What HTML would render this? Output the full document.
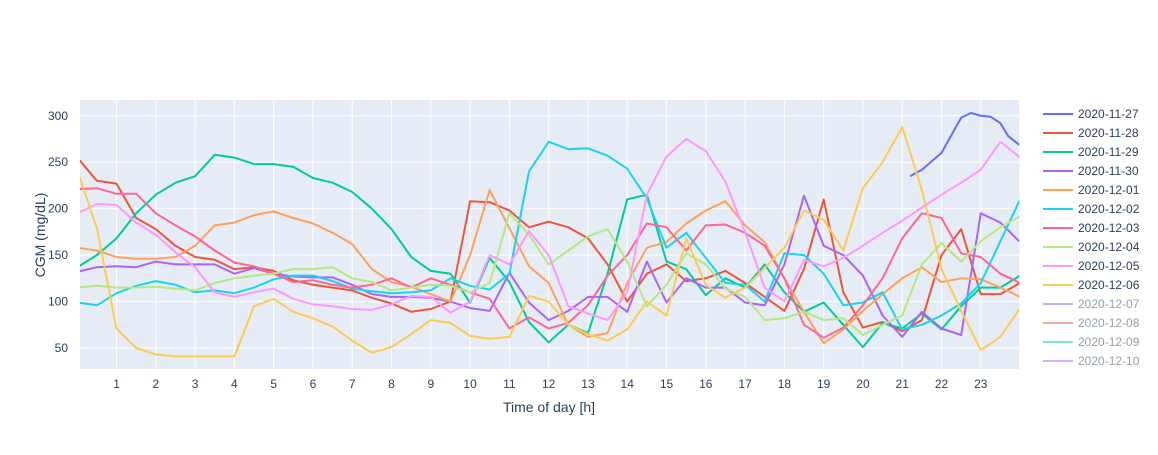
<!DOCTYPE html>
<html><head><meta charset="utf-8"><style>
body{margin:0;background:#fff;font-family:"Liberation Sans",sans-serif}
svg text{font-family:"Liberation Sans",sans-serif;fill:#2a3f5f}
</style></head><body>
<svg id="chart" width="1158" height="450" xmlns="http://www.w3.org/2000/svg">
<rect x="80" y="100" width="939.3" height="269" fill="#e5ecf6"/>
<g id="grid"></g><g id="series"></g><g id="axes"></g><g id="legend"></g>
<text x="549" y="412" font-size="14" text-anchor="middle">Time of day [h]</text>
<text x="0" y="0" font-size="14" text-anchor="middle" transform="translate(45,235) rotate(-90)">CGM (mg/dL)</text>
</svg>
<script>
const hours = [0,0.5,1,1.5,2,2.5,3,3.5,4,4.5,5,5.5,6,6.5,7,7.5,8,8.5,9,9.5,10,10.5,11,11.5,12,12.5,13,13.5,14,14.5,15,15.5,16,16.5,17,17.5,18,18.5,19,19.5,20,20.5,21,21.5,22,22.5,23,23.5,24];
const dates = ["2020-11-27","2020-11-28","2020-11-29","2020-11-30","2020-12-01","2020-12-02","2020-12-03","2020-12-04","2020-12-05","2020-12-06","2020-12-07","2020-12-08","2020-12-09","2020-12-10"];
const colors = ["#636efa","#EF553B","#00cc96","#ab63fa","#FFA15A","#19d3f3","#FF6692","#B6E880","#FF97FF","#FECB52","#636efa","#EF553B","#00cc96","#ab63fa"];
const yTicks = [50,100,150,200,250,300];
const xTicks = [1,2,3,4,5,6,7,8,9,10,11,12,13,14,15,16,17,18,19,20,21,22,23];
const d1127t = [21.2,21.5,22,22.5,22.75,23,23.25,23.5,23.7,24];
const d1127v = [235,242,260,298,303,300,299,292,278,268];
const d1128 = [255,230,227,190,178,160,148,145,135,137,133,123,118,115,112,104,98,89,92,100,208,207,198,180,186,180,168,140,100,130,140,122,125,133,120,105,90,135,210,110,72,78,68,80,150,178,108,108,120];
const d1129 = [137,150,168,195,215,228,235,258,255,248,248,245,233,228,218,200,178,148,133,130,99,147,121,78,56,75,66,130,210,215,143,135,107,125,115,140,110,89,99,75,51,77,71,87,70,95,115,115,128];
const d1130 = [132,137,138,137,143,140,140,140,130,136,130,127,126,126,118,108,105,105,104,100,93,90,131,99,80,90,105,105,89,143,99,125,115,115,99,96,140,214,160,150,128,85,62,89,71,64,195,185,164];
const d1201 = [158,155,148,146,146,148,160,182,185,193,197,190,184,174,162,135,121,116,108,100,150,220,179,138,120,75,62,66,120,158,164,184,198,208,182,164,125,89,55,70,90,108,125,137,121,125,124,115,105];
const d1202 = [99,96,109,117,122,118,110,112,109,115,124,128,128,122,114,111,109,110,112,125,117,113,130,240,272,264,265,257,243,211,158,174,147,120,118,100,152,150,130,96,99,110,70,75,85,98,120,165,210];
const d1203 = [221,222,216,216,195,182,170,155,142,138,130,121,123,118,115,118,125,115,125,118,110,103,71,83,71,77,96,128,150,184,180,155,182,183,174,160,125,75,61,72,96,125,168,195,190,152,148,130,120];
const d1204 = [115,117,115,115,116,114,112,120,125,128,130,135,135,137,125,121,112,115,118,117,110,120,195,172,140,155,170,178,143,95,118,152,140,114,105,80,82,89,80,82,64,75,85,140,163,143,165,180,192];
const d1205 = [195,205,204,185,172,153,137,110,105,110,114,103,97,95,92,91,97,106,105,88,100,150,140,176,150,95,87,80,110,215,256,275,262,229,175,115,100,145,138,147,160,174,187,201,215,228,242,272,255];
const d1206 = [241,179,71,50,43,41,41,41,41,95,103,89,82,73,58,45,51,65,80,77,63,60,62,106,100,75,65,58,70,100,85,168,118,104,115,136,158,198,188,155,222,250,288,220,135,90,48,62,93];
const visibleValues = [null,d1128,d1129,d1130,d1201,d1202,d1203,d1204,d1205,d1206];

const NS="http://www.w3.org/2000/svg";
const X0=80,X1=1019.3,Y0=100,Y1=369,xMin=0.07,xMax=23.98,yMin=27.4,yMax=317;
const xs=h=>X0+(h-xMin)/(xMax-xMin)*(X1-X0);
const ys=v=>Y1-(v-yMin)/(yMax-yMin)*(Y1-Y0);
function mk(tag,attrs,parent){const e=document.createElementNS(NS,tag);for(const k in attrs)e.setAttribute(k,attrs[k]);parent.appendChild(e);return e;}
const grid=document.getElementById('grid'),axes=document.getElementById('axes'),ser=document.getElementById('series'),leg=document.getElementById('legend');
xTicks.forEach(t=>{
  const l=mk('line',{x1:xs(t),x2:xs(t),y1:Y0,y2:Y1,stroke:'#fff','stroke-width':1},grid);
  
  
  const tx=mk('text',{x:xs(t),y:388,'font-size':12,'text-anchor':'middle'},axes);
  tx.textContent=t;
  
  
});
yTicks.forEach(t=>{
  const l=mk('line',{x1:X0,x2:X1,y1:ys(t),y2:ys(t),stroke:'#fff','stroke-width':1},grid);
  
  
  const tx=mk('text',{x:68,y:ys(t)+4,'font-size':12,'text-anchor':'end'},axes);
  tx.textContent=t;
  
  
});
const clip=mk('clipPath',{id:'pc'},document.getElementById('chart'));
mk('rect',{x:X0,y:Y0,width:X1-X0,height:Y1-Y0},clip);
ser.setAttribute('clip-path','url(#pc)');
function drawLine(ts,vs,color){
  const pts=ts.map((t,i)=>xs(t).toFixed(1)+','+ys(vs[i]).toFixed(1)).join(' ');
  return mk('polyline',{points:pts,fill:'none',stroke:color,'stroke-width':2,'stroke-linejoin':'round'},ser);
}
let p=drawLine(d1127t,d1127v,colors[0]);


for(let i=1;i<visibleValues.length;i++){
  const line=drawLine(hours,visibleValues[i],colors[i]);
  
  
}
dates.forEach((d,i)=>{
  const y=114+i*19;
  const g=mk('g',{opacity:i>=10?0.5:1},leg);
  
  
  mk('line',{x1:1043,x2:1073,y1:y,y2:y,stroke:colors[i],'stroke-width':2},g);
  const t=mk('text',{x:1078,y:y+4,'font-size':12},g);
  t.textContent=d;
});
</script>
</body></html>
